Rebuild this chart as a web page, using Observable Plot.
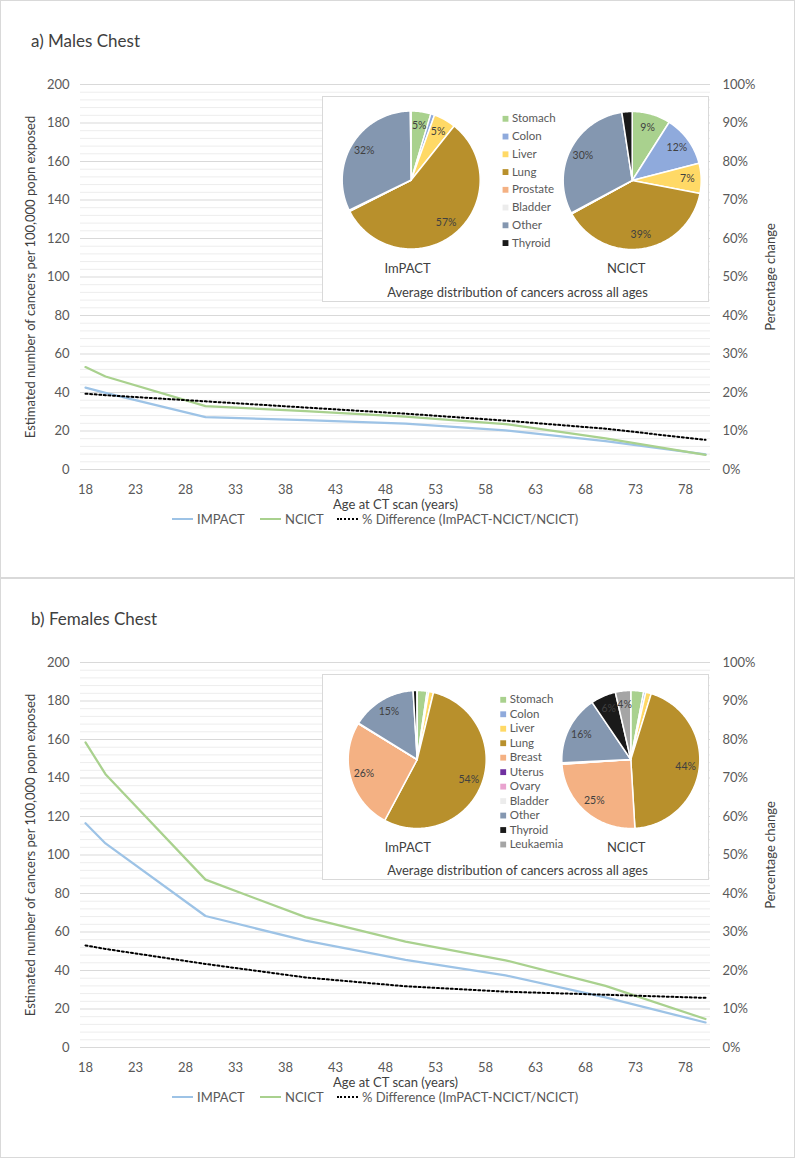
<!DOCTYPE html>
<html><head><meta charset="utf-8">
<script src="https://cdn.jsdelivr.net/npm/d3@7"></script>
<script src="https://cdn.jsdelivr.net/npm/@observablehq/plot@0.6"></script>
<style>
body{margin:0;background:#fff;font-family:Lato,"Open Sans",sans-serif;width:795px;height:1159px;position:relative;overflow:hidden;}
.panel{position:absolute;left:0;width:795px;box-shadow:inset 0 0 0 1px #d9d9d9;}
.title{position:absolute;left:31px;top:31px;font-size:17px;line-height:20px;color:#404040;}
.chart{position:absolute;left:0;top:60px;}
.inset{position:absolute;left:323px;top:97px;background:#fff;box-shadow:0 0 0 1px #d9d9d9;}
.leg{position:absolute;top:511px;height:16px;display:flex;align-items:center;font-size:13px;color:#595959;white-space:nowrap;}
.leg span.s{display:inline-block;width:21px;margin-right:4px;}
</style>
</head><body>
<script>
// ---------- data ----------
const ages = [18, 20, 30, 40, 50, 60, 70, 80];
const xTicks = [18, 23, 28, 33, 38, 43, 48, 53, 58, 63, 68, 73, 78];
const yTicks = [0, 20, 40, 60, 80, 100, 120, 140, 160, 180, 200];

const impactMales = [42.5, 39.8, 27.2, 25.7, 23.8, 20.3, 14.7, 7.8];
const ncictMales  = [53.2, 48.3, 32.9, 30.3, 27.5, 23.6, 16.2, 7.6];
const diffMales   = [19.7, 19.3, 17.7, 16.1, 14.5, 12.7, 10.6, 7.7];   // percent

const impactFemales = [116.5, 106, 68.3, 55.5, 45.5, 37.5, 26, 13];
const ncictFemales  = [158.5, 142, 87.2, 67.7, 55, 45.3, 32, 14.8];
const diffFemales   = [26.5, 25.6, 21.7, 18.2, 15.9, 14.5, 13.7, 12.9]; // percent

const cancersMales = ["Stomach", "Colon", "Liver", "Lung", "Prostate", "Bladder", "Other", "Thyroid"];
const pieImpactMales = [4.6, 0.9, 5.2, 56.8, 0.1, 0.2, 32.0, 0.2];
const pieNcictMales  = [9.0, 12.0, 7.0, 39.0, 0.05, 0.15, 30.4, 2.4];

const cancersFemales = ["Stomach", "Colon", "Liver", "Lung", "Breast", "Uterus", "Ovary", "Bladder", "Other", "Thyroid", "Leukaemia"];
const pieImpactFemales = [2.3, 0.4, 1.1, 54.0, 25.9, 0.0, 0.05, 0.1, 15.2, 0.9, 0.05];
const pieNcictFemales  = [3.0, 0.5, 1.3, 44.3, 24.9, 0.05, 0.1, 0.15, 16.3, 5.9, 3.6];

const cancerColors = {
  Stomach: "#a9d18e", Colon: "#8faadc", Liver: "#ffd966", Lung: "#b8902c",
  Prostate: "#f4b183", Breast: "#f4b183", Uterus: "#7030a0", Ovary: "#e9a3cf",
  Bladder: "#ececec", Other: "#8497b0", Thyroid: "#1a1a1a", Leukaemia: "#a5a5a5"
};

const seriesNames = ["IMPACT", "NCICT", "% Difference (ImPACT-NCICT/NCICT)"];
const seriesColors = ["#9dc3e6", "#a9d18e", "#000000"];

const yLabel = "Estimated number of cancers per 100,000 popn exposed";
const y2Label = "Percentage change";
const xLabel = "Age at CT scan (years)";
const insetTitle = "Average distribution of cancers across all ages";

// ---------- helpers ----------
const FONT = "Lato, 'Open Sans', sans-serif";

function mainChart(impact, ncict, diff) {
  const rows = (vals, k) => ages.map((a, i) => ({age: a, v: k ? vals[i] * 2 : vals[i]}));
  const minors = d3.range(0, 201, 4).filter(v => v % 20 !== 0);
  return Plot.plot({
    width: 795, height: 480,
    marginTop: 24, marginBottom: 71, marginLeft: 80, marginRight: 85,
    style: {fontFamily: FONT, fontSize: "13px", color: "#595959", background: "transparent", overflow: "visible"},
    x: {domain: [17.5, 80.5]},
    y: {domain: [0, 200]},
    marks: [
      Plot.ruleY(minors, {stroke: "#ededed", strokeWidth: 1}),
      Plot.ruleY(yTicks, {stroke: "#d9d9d9", strokeWidth: 1}),
      Plot.axisX({ticks: xTicks, tickSize: 0, tickPadding: 15, label: null, tickFormat: d => String(d)}),
      Plot.axisY({ticks: yTicks, tickSize: 0, tickPadding: 11, label: null, tickFormat: d => String(d)}),
      Plot.axisY({anchor: "right", ticks: yTicks, tickSize: 0, tickPadding: 12, label: null, tickFormat: d => (d / 2) + "%"}),
      Plot.line(rows(impact, false), {x: "age", y: "v", stroke: seriesColors[0], strokeWidth: 2.25}),
      Plot.line(rows(ncict, false), {x: "age", y: "v", stroke: seriesColors[1], strokeWidth: 2.25}),
      Plot.line(rows(diff, true), {x: "age", y: "v", stroke: seriesColors[2], strokeWidth: 2, strokeDasharray: "2,2.6"}),
      Plot.text([yLabel], {text: d => d, frameAnchor: "left", textAnchor: "middle", lineAnchor: "middle", rotate: -90, dx: -50, fill: "#404040", fontSize: 13}),
      Plot.text([y2Label], {text: d => d, frameAnchor: "right", textAnchor: "middle", lineAnchor: "middle", rotate: -90, dx: 60, fill: "#404040", fontSize: 13}),
      Plot.text([xLabel], {text: d => d, frameAnchor: "bottom", textAnchor: "middle", lineAnchor: "middle", dy: 35, fill: "#404040", fontSize: 13})
    ]
  });
}

function slicePaths(cancers, values, cx, cy, r) {
  const arcs = d3.pie().sort(null).value(d => d)(values);
  return arcs.map((a, i) => {
    const pts = [{x: cx, y: cy}];
    const n = Math.max(2, Math.ceil((a.endAngle - a.startAngle) / (Math.PI / 180)));
    for (let k = 0; k <= n; k++) {
      const t = a.startAngle + (a.endAngle - a.startAngle) * k / n;
      pts.push({x: cx + r * Math.sin(t), y: cy - r * Math.cos(t)});
    }
    pts.push({x: cx, y: cy});
    const mid = (a.startAngle + a.endAngle) / 2;
    return {name: cancers[i], value: values[i], pts,
            lx: cx + 0.8 * r * Math.sin(mid), ly: cy - 0.8 * r * Math.cos(mid)};
  });
}

function insetChart(cancers, impactVals, ncictVals, L) {
  const W = 385, H = 204, R = 69;
  const s1 = slicePaths(cancers, impactVals, L.c1[0], L.c1[1], R);
  const s2 = slicePaths(cancers, ncictVals, L.c2[0], L.c2[1], R);
  const all = s1.concat(s2);
  const labels = all.filter(s => s.value >= 3.5);
  const legend = cancers.map((c, i) => ({c, y: L.legY + i * L.legDy}));
  return Plot.plot({
    width: W, height: H, margin: 0,
    style: {fontFamily: FONT, background: "#fff", overflow: "visible"},
    x: {domain: [0, W], range: [0, W], axis: null},
    y: {domain: [0, H], range: [0, H], axis: null},
    color: {domain: Object.keys(cancerColors), range: Object.values(cancerColors)},
    marks: [
      ...all.map(s => Plot.line(s.pts, {x: "x", y: "y", fill: cancerColors[s.name], stroke: "#ffffff", strokeWidth: 1.5, strokeLinejoin: "round"})),
      Plot.text(labels, {x: "lx", y: "ly", text: d => Math.round(d.value) + "%", fill: "#404040", fontSize: 10.5}),
      Plot.dot(legend, {x: () => L.legX, y: "y", symbol: "square", r: 3.3, fill: "c"}),
      Plot.text(legend, {x: () => L.legX + 6.5, y: "y", text: "c", textAnchor: "start", fill: "#595959", fontSize: 11.5}),
      Plot.text(["ImPACT"], {text: d => d, x: () => L.n1[0], y: () => L.n1[1], fill: "#404040", fontSize: 13}),
      Plot.text(["NCICT"], {text: d => d, x: () => L.n2[0], y: () => L.n2[1], fill: "#404040", fontSize: 13}),
      Plot.text([insetTitle], {text: d => d, x: () => 194, y: () => 195, fill: "#404040", fontSize: 13})
    ]
  });
}

function addLegend(panel) {
  const xs = [172, 260, 337];
  seriesNames.forEach((name, i) => {
    const d = document.createElement("div");
    d.className = "leg";
    d.style.left = xs[i] + "px";
    const s = document.createElement("span");
    s.className = "s";
    s.style.borderTop = (i === 2 ? "2px dotted " : "2.5px solid ") + seriesColors[i];
    d.appendChild(s);
    d.appendChild(document.createTextNode(name));
    panel.appendChild(d);
  });
}

function makePanel(top, height, title, impact, ncict, diff, cancers, pieI, pieN, L) {
  const p = document.createElement("div");
  p.className = "panel";
  p.style.top = top + "px";
  p.style.height = height + "px";
  const t = document.createElement("div");
  t.className = "title";
  t.textContent = title;
  p.appendChild(t);
  const c = mainChart(impact, ncict, diff);
  c.classList.add("chart");
  p.appendChild(c);
  const ins = insetChart(cancers, pieI, pieN, L);
  ins.classList.add("inset");
  p.appendChild(ins);
  addLegend(p);
  document.body.appendChild(p);
}

makePanel(0, 578, "a) Males Chest", impactMales, ncictMales, diffMales,
  cancersMales, pieImpactMales, pieNcictMales,
  {c1: [87.7, 82.5], c2: [308.7, 83], n1: [84, 171.5], n2: [302.7, 171.5], legX: 182, legY: 21.3, legDy: 17.75});

makePanel(578, 580, "b) Females Chest", impactFemales, ncictFemales, diffFemales,
  cancersFemales, pieImpactFemales, pieNcictFemales,
  {c1: [93.7, 84], c2: [307.3, 84], n1: [84.3, 172.5], n2: [302.7, 172.5], legX: 179.7, legY: 24.3, legDy: 14.47});
</script>
</body></html>
